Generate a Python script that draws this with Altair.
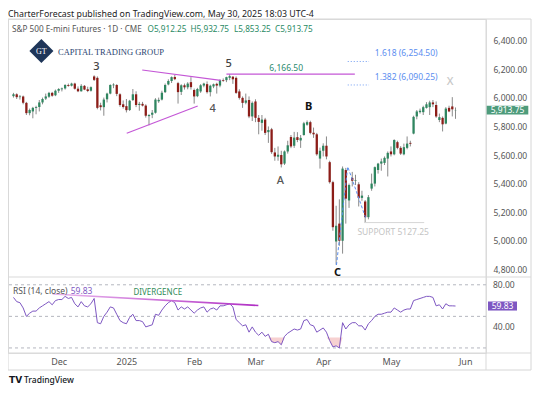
import altair as alt
import pandas as pd
import numpy as np

FONT = "Noto Sans"

# ---------------- data ----------------
opens = [6012, 6025, 6005, 6010, 5965, 5893, 5905, 5930, 5936, 5968, 5995, 6008, 6035, 6018,
         6050, 6060, 6066, 6090, 6085, 6100, 6064, 6046, 6084, 6060, 6050, 6150, 6140, 5948,
         5935, 5990, 6030, 6088, 6090, 6025, 5955,
         5942, 5915, 5985, 6025, 5950, 5958, 5946, 5872, 5882, 5896, 5976, 5988, 6040, 6094,
         6118, 6146, 6103, 6042, 6088, 6074, 6110,
         6055, 6012, 6045, 6086, 6096, 6040, 6080, 6098, 6086, 6125, 6124, 6140, 6148, 6140,
         6045, 6000, 5966, 5985, 5870,
         5975, 5860, 5825, 5848, 5760, 5780, 5618, 5588, 5600, 5540, 5625, 5726, 5665, 5725,
         5702, 5740, 5812, 5830, 5756, 5745, 5575,
         5630, 5665, 5550, 5410, 4995, 5120, 5000, 5495, 5282, 5440, 5420, 5395, 5300, 5275,
         5165, 5365, 5400, 5495, 5540, 5545, 5575,
         5625, 5605, 5690, 5650, 5605, 5650, 5685, 5750, 5870, 5900, 5900, 5930, 5935, 5968,
         5950, 5845, 5860, 5820, 5930, 5940, 5912.25]
highs = [6035, 6032, 6020, 6016, 5972, 5925, 5937, 5945, 5985, 6002, 6030, 6042, 6042, 6058,
         6068, 6072, 6096, 6100, 6106, 6106, 6080, 6096, 6090, 6078, 6080, 6158, 6150, 5966,
         6002, 6036, 6095, 6102, 6096, 6032, 5982,
         5992, 5986, 6062, 6046, 5972, 5972, 5955, 5886, 5915, 5998, 6002, 6050, 6100, 6130,
         6150, 6160, 6112, 6095, 6100, 6110, 6145,
         6065, 6070, 6096, 6106, 6115, 6092, 6100, 6106, 6130, 6136, 6148, 6166.5, 6152, 6150,
         6060, 6010, 6030, 6010, 5975,
         5990, 5880, 5880, 5860, 5800, 5790, 5650, 5660, 5630, 5632, 5700, 5740, 5762, 5760,
         5740, 5832, 5842, 5840, 5792, 5755, 5652,
         5682, 5730, 5560, 5420, 5245, 5290, 5520, 5510, 5400, 5482, 5462, 5410, 5350, 5285,
         5320, 5470, 5520, 5545, 5575, 5590, 5625,
         5660, 5710, 5700, 5662, 5680, 5730, 5700, 5875, 5915, 5925, 5945, 5970, 5980, 5985,
         5975, 5890, 5870, 5935, 5945, 6005, 5932.75]
lows = [6002, 5992, 5988, 5955, 5880, 5878, 5857, 5885, 5905, 5955, 5985, 6000, 6008, 6012,
        6035, 6045, 6058, 6078, 6080, 6058, 6040, 6044, 6054, 6040, 6044, 6118, 5920, 5912,
        5875, 5968, 6025, 6068, 6012, 5938, 5925,
        5898, 5908, 5978, 5935, 5910, 5940, 5862, 5808, 5858, 5890, 5965, 5982, 6034, 6088,
        6104, 6124, 5960, 6020, 6058, 6060, 6058,
        5960, 6005, 6035, 6074, 6030, 6010, 6068, 6030, 6074, 6112, 6110, 6124, 6098, 6028,
        5988, 5930, 5955, 5858, 5838,
        5830, 5745, 5770, 5740, 5685, 5608, 5560, 5560, 5513, 5530, 5610, 5648, 5650, 5690,
        5650, 5735, 5805, 5745, 5720, 5595, 5505,
        5590, 5570, 5400, 5070, 4832, 4965, 4910, 5120, 5230, 5380, 5390, 5240, 5280, 5127.25,
        5150, 5350, 5380, 5470, 5490, 5530, 5450,
        5590, 5598, 5640, 5600, 5598, 5640, 5660, 5745, 5850, 5890, 5880, 5925, 5880, 5935,
        5860, 5830, 5765, 5815, 5900, 5870, 5853.25]
closes = [6025, 6005, 6010, 5965, 5893, 5915, 5930, 5936, 5968, 5992, 6010, 6035, 6015, 6050,
          6062, 6066, 6090, 6084, 6100, 6064, 6046, 6084, 6058, 6048, 6075, 6126, 5930, 5935,
          5988, 6030, 6090, 6093, 6028, 5950, 5936,
          5914, 5980, 6025, 5950, 5958, 5946, 5875, 5880, 5896, 5988, 5986, 6036, 6090, 6118,
          6145, 6131, 6040, 6088, 6074, 6100, 6075,
          6010, 6062, 6088, 6100, 6040, 6085, 6095, 6086, 6125, 6120, 6145, 6152, 6130, 6035,
          6000, 5965, 5982, 5870, 5965,
          5860, 5832, 5848, 5755, 5775, 5620, 5590, 5602, 5535, 5625, 5668, 5660, 5722, 5705,
          5720, 5822, 5830, 5755, 5745, 5605, 5630,
          5665, 5590, 5410, 5095, 5105, 5000, 5505, 5295, 5390, 5420, 5424, 5300, 5316, 5165,
          5305, 5400, 5515, 5540, 5555, 5580, 5615,
          5605, 5705, 5650, 5610, 5655, 5680, 5679, 5867, 5905, 5910, 5935, 5955, 5968, 5955,
          5870, 5865, 5815, 5925, 5905, 5920, 5913.75]
rsi_vals = [68, 64, 63, 58, 50, 53, 55, 55, 58, 60, 62, 64, 61, 65,
            66, 66, 69, 67, 68, 62, 59, 64, 60, 59, 62, 67, 44, 43, 50, 54, 59, 58, 52, 46, 44,
            43, 49, 52, 46, 46, 45, 40, 41, 42, 52, 51, 56, 60, 63, 65, 63, 56, 59, 57, 59, 56,
            53, 56, 58, 59, 54, 57, 58, 56, 60, 60, 61, 62, 59, 47, 44, 41, 42, 35, 40,
            35, 32, 35, 31, 33, 26, 25, 26, 23, 31, 34, 36, 38, 37, 38, 46, 47, 42, 41, 35, 37,
            39, 35, 27, 21, 22, 20, 44, 38, 42, 44, 44, 41, 41, 37, 43, 46, 50, 52, 52, 53, 54,
            54, 58, 56, 54, 56, 57, 57, 65, 66, 67, 68, 69, 69, 68, 60, 61, 57, 62, 60, 60, 59.83]

month_ticks = [14, 35, 56, 75, 96, 117, 140]
month_labels = ["Dec", "2025", "Feb", "Mar", "Apr", "May", "Jun"]
price_ticks = [4800, 5000, 5200, 5400, 5600, 5800, 6000, 6200, 6400]
rsi_ticks = [80, 40]
rsi_tick_labels = ["80.00", "40.00"]
rsi_bands = [80, 50, 20]

# annotations in data coordinates (bar index, price)
wave_labels = ["3", "4", "5", "A", "B", "C", "X"]
wave_i = [25.7, 61.7, 66.7, 82.7, 91.5, 100.4, 135.3]
wave_p = [6218, 5920, 6235, 5420, 5938, 4772, 6113]

tri_upper_i = [39.9, 64.2]
tri_upper_p = [6195, 6122]
tri_lower_i = [35.1, 57.1]
tri_lower_p = [5752, 5943]
top_line_i = [66, 105.8]
top_level = 6166.50
fib_i = [103.6, 110.2]
fib_levels = [6254.50, 6090.25]
fib_texts = ["1.618 (6,254.50)", "1.382 (6,090.25)"]
fib_text_p = [6312, 6148]
support_i = [108.7, 127.3]
support_level = 5127.25
zig_i = [100.1, 103.6, 109.2]
zig_p = [4830, 5518, 5157]
div_i = [12.1, 75.9]
div_v = [71.2, 60.3]

assert len(opens) == len(highs) == len(lows) == len(closes) == len(rsi_vals) == 138

# ---------------- styling ----------------
UP = "#2f8660"
DOWN = "#8c1d18"
MAGENTA = "#c457d6"
W, H = 478, 334

df = pd.DataFrame({"i": list(range(len(closes))), "o": opens, "h": highs,
                   "l": lows, "c": closes, "rsi": rsi_vals})
df["top"] = df[["o", "c"]].max(axis=1)
df["bot"] = df[["o", "c"]].min(axis=1)
df["dir"] = np.where(df["c"] >= df["o"], "up", "down")

xscale = alt.Scale(domain=[-0.15, 144.9], nice=False, zero=False)
pscale = alt.Scale(domain=[4214.6, 6551.9], nice=False, zero=False)
rscale = alt.Scale(domain=[15.2, 332.5], nice=False, zero=False)

expr = "''"
for t, l in reversed(list(zip(month_ticks, month_labels))):
    expr = f"datum.value == {t} ? '{l}' : ({expr})"

x_axis = alt.Axis(values=month_ticks, labelExpr=expr, tickSize=0, domain=False, grid=False,
                  labelPadding=8, labelBaseline="middle", labelFontSize=9, labelColor="#555",
                  labelFont=FONT, title=None, labelFlush=False, labelOverlap=False)
price_axis = alt.Axis(orient="right", values=price_ticks, format=",.2f", tickSize=0,
                      domain=False, grid=False, labelPadding=7, labelAlign="left",
                      labelBaseline="middle", labelFontSize=8.5, labelColor="#555",
                      labelFont=FONT, title=None, labelFlush=False, labelOverlap=False)


def X(field="i"):
    return alt.X(f"{field}:Q", scale=xscale, axis=x_axis)


def PY(field):
    return alt.Y(f"{field}:Q", scale=pscale, axis=price_axis)


def RY(field):
    return alt.Y(f"{field}:Q", scale=rscale, axis=None)


def ptext(s, x, y, size=8.5, color="#333", align="left", weight="normal", font=FONT):
    return alt.Chart(pd.DataFrame({"t": [s]})).mark_text(
        align=align, baseline="middle", fontSize=size, color=color, font=font,
        fontWeight=weight).encode(x=alt.value(x), y=alt.value(y), text="t:N")


def prule(x, x2, y, y2=None, color="#d9d9d9"):
    enc = dict(x=alt.value(x), x2=alt.value(x2), y=alt.value(y))
    if y2 is not None:
        enc["y2"] = alt.value(y2)
    return alt.Chart(pd.DataFrame({"d": [0]})).mark_rule(color=color, strokeWidth=1).encode(**enc)


base = alt.Chart(df)

# ---------------- price pane ----------------
wicks = base.mark_rule(color="#8a8a8a", strokeWidth=1).encode(x=X(), y=PY("l"), y2="h:Q")
bodies = base.mark_bar(size=2.3).encode(
    x=X(), y=PY("top"), y2="bot:Q",
    color=alt.Color("dir:N", scale=alt.Scale(domain=["up", "down"], range=[UP, DOWN]), legend=None))

lines_df = pd.DataFrame({
    "seg": ["u", "u", "l", "l", "t", "t"],
    "i": tri_upper_i + tri_lower_i + top_line_i,
    "p": tri_upper_p + tri_lower_p + [top_level, top_level]})
trend = alt.Chart(lines_df).mark_line(color=MAGENTA, strokeWidth=1.2).encode(
    x=X(), y=PY("p"), detail="seg:N")

fib_df = pd.DataFrame({"seg": ["a", "a", "b", "b"], "i": fib_i + fib_i,
                       "p": [fib_levels[0]] * 2 + [fib_levels[1]] * 2})
fib_lines = alt.Chart(fib_df).mark_line(color="#6f9cf2", strokeWidth=1, strokeDash=[1, 2]).encode(
    x=X(), y=PY("p"), detail="seg:N")
fib_txt = alt.Chart(pd.DataFrame({"t": fib_texts, "i": [fib_i[1] + 1.8] * 2, "p": fib_text_p})).mark_text(
    align="left", baseline="middle", fontSize=8.5, color="#5b8ef0", font=FONT).encode(
    x=X(), y=PY("p"), text="t:N")

sup_line = alt.Chart(pd.DataFrame({"i": support_i, "p": [support_level] * 2})).mark_line(
    color="#d6d6d6", strokeWidth=1).encode(x=X(), y=PY("p"))
sup_txt = alt.Chart(pd.DataFrame({"t": ["SUPPORT 5127.25"], "i": [106.6], "p": [5063]})).mark_text(
    align="left", baseline="middle", fontSize=8.5, color="#c4c4c4", font=FONT).encode(
    x=X(), y=PY("p"), text="t:N")
lvl_txt = alt.Chart(pd.DataFrame({"t": ["6,166.50"], "i": [79.3], "p": [6207]})).mark_text(
    align="left", baseline="middle", fontSize=8.5, color="#2b8a6e", font=FONT).encode(
    x=X(), y=PY("p"), text="t:N")

zig = alt.Chart(pd.DataFrame({"i": zig_i, "p": zig_p})).mark_line(
    color="#5b8ff0", strokeWidth=1, strokeDash=[3, 2]).encode(x=X(), y=PY("p"))

wave_df = pd.DataFrame({"t": wave_labels, "i": wave_i, "p": wave_p,
                        "col": ["#444", "#555", "#444", "#555", "#111", "#111", "#c8c8c8"],
                        "bold": [0, 0, 0, 0, 1, 1, 0]})
wave_norm = alt.Chart(wave_df[wave_df.bold == 0]).mark_text(
    align="center", baseline="middle", fontSize=11, font=FONT, fontWeight=500).encode(
    x=X(), y=PY("p"), text="t:N", color=alt.Color("col:N", scale=None))
wave_bold = alt.Chart(wave_df[wave_df.bold == 1]).mark_text(
    align="center", baseline="middle", fontSize=11, font=FONT, fontWeight="bold").encode(
    x=X(), y=PY("p"), text="t:N", color=alt.Color("col:N", scale=None))

last_df = pd.DataFrame({"p": [closes[-1]], "t": ["5,913.75"]})
last_box = alt.Chart(last_df).transform_calculate(
    p1="datum.p + 31", p2="datum.p - 31").mark_rect(color="#4e9c7c").encode(
    x=alt.value(478.7), x2=alt.value(520.3), y=PY("p1"), y2="p2:Q")
last_txt = alt.Chart(last_df).mark_text(align="center", baseline="middle", fontSize=8.5,
                                        color="white", font=FONT).encode(
    x=alt.value(499.5), y=PY("p"), text="t:N")

price_group = alt.layer(wicks, bodies, trend, fib_lines, fib_txt, sup_line, sup_txt, lvl_txt,
                        zig, wave_norm, wave_bold, last_box, last_txt)

# ---------------- RSI pane ----------------
bands = alt.Chart(pd.DataFrame({"lvl": rsi_bands})).mark_rule(
    color="#b4b7bf", strokeWidth=1, strokeDash=[3, 3]).encode(y=RY("lvl"))
fill = base.transform_calculate(lo="min(datum.rsi, 30)", hi="30").mark_area(
    color="#f2b3b3", opacity=0.6).encode(x=X(), y=RY("lo"), y2="hi:Q")
rsi_line = base.mark_line(color="#7e57c2", strokeWidth=1).encode(x=X(), y=RY("rsi"))
div_line = alt.Chart(pd.DataFrame({"i": div_i, "v": div_v})).mark_line(
    strokeWidth=1.6,
    color=alt.Gradient(gradient="linear",
                       stops=[alt.GradientStop(color="#e9b8ee", offset=0),
                              alt.GradientStop(color="#b02fc4", offset=1)],
                       x1=0, x2=1, y1=0, y2=0)).encode(x=X(), y=RY("v"))
div_txt = alt.Chart(pd.DataFrame({"t": ["DIVERGENCE"], "i": [37.2], "v": [71.8]})).mark_text(
    align="left", baseline="middle", fontSize=8, color="#2e8b57", font=FONT).encode(
    x=X(), y=RY("v"), text="t:N")
rsi_lbls = alt.Chart(pd.DataFrame({"v": rsi_ticks, "t": rsi_tick_labels})).mark_text(
    align="left", baseline="middle", fontSize=8.5, color="#555", font=FONT).encode(
    x=alt.value(485), y=RY("v"), text="t:N")
rsi_last = pd.DataFrame({"v": [rsi_vals[-1]], "t": ["59.83"]})
rsi_box = alt.Chart(rsi_last).transform_calculate(
    v1="datum.v + 4.3", v2="datum.v - 4.3").mark_rect(color="#7e57c2").encode(
    x=alt.value(480), x2=alt.value(509), y=RY("v1"), y2="v2:Q")
rsi_box_txt = alt.Chart(rsi_last).mark_text(align="center", baseline="middle", fontSize=8.5,
                                            color="white", font=FONT).encode(
    x=alt.value(494.5), y=RY("v"), text="t:N")

rsi_group = alt.layer(bands, fill, rsi_line, div_line, div_txt, rsi_lbls, rsi_box, rsi_box_txt)

# ---------------- frame, headers, logos (pixel layer) ----------------
frame = alt.Chart(pd.DataFrame({"d": [0]})).mark_rect(
    fill="transparent", stroke="#d6d6d6", strokeWidth=1).encode(
    x=alt.value(0), x2=alt.value(523), y=alt.value(0), y2=alt.value(351))
vsep = prule(W, W, 0, 351)
hsep1 = prule(0, 523, 258)
hsep2 = prule(0, 523, H)

header = ptext("CharterForecast published on TradingView.com, May 30, 2025 18:03 UTC-4",
               0, -5.5, size=8.8, color="#222")
legend_name = ptext("S&P 500 E-mini Futures · 1D · CME", 4, 11, size=8.2, color="#555")
ohlc_labels = ["O5,912.25", "H5,932.75", "L5,853.25", "C5,913.75"]
ohlc_x = [139.5, 182.5, 226, 267]
ohlc = [ptext(t, x, 11, size=8.2, color="#2a8a64") for t, x in zip(ohlc_labels, ohlc_x)]

logo_mark = alt.Chart(pd.DataFrame({"d": [0]})).mark_point(
    shape="square", angle=45, size=290, filled=True, color="#1f3659", opacity=1).encode(
    x=alt.value(33.4), y=alt.value(32))
logo_gt = ptext("GT", 33.4, 32.5, size=8, color="white", align="center",
                font="Liberation Serif")
logo_txt = ptext("CAPITAL TRADING GROUP", 50, 32.7, size=8.5, color="#2b4470",
                 font="Liberation Serif")

rsi_name = ptext("RSI (14, close)", 5, 272.4, size=8.5, color="#555")
rsi_val = ptext("59.83", 62.7, 272.4, size=8.5, color="#7e57c2")

tv_icon = ptext("TV", 1, 360.5, size=9, color="#131722", align="left", weight=900,
                font="DejaVu Sans")
tv_txt = ptext("TradingView", 16, 360.5, size=8.5, color="#131722", weight=500)

chart = alt.layer(
    frame, vsep, hsep1, hsep2,
    rsi_group, price_group,
    header, legend_name, *ohlc, logo_mark, logo_gt, logo_txt, rsi_name, rsi_val,
    tv_icon, tv_txt,
).resolve_scale(y="independent").properties(
    width=W, height=H,
    padding={"left": 0, "top": 11, "right": 46, "bottom": 34},
    autosize=alt.AutoSizeParams(type="none"),
).configure_view(stroke=None).configure(background="white")

chart.save("out.html", embed_options={"renderer": "svg", "actions": False})
